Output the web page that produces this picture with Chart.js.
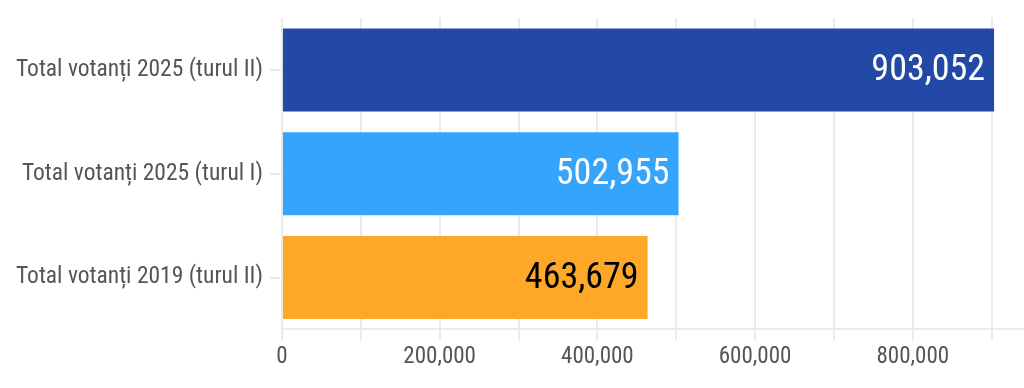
<!DOCTYPE html>
<html>
<head>
<meta charset="utf-8">
<script src="https://cdn.jsdelivr.net/npm/chart.js@4"></script>
<style>
  html, body { margin: 0; padding: 0; background: #fff; }
  #wrap { width: 1024px; height: 388px; }
</style>
</head>
<body>
<div id="wrap"><canvas id="chart"></canvas></div>
<script>
const categories = ['Total votanți 2025 (turul II)', 'Total votanți 2025 (turul I)', 'Total votanți 2019 (turul II)'];
const voters = [903052, 502955, 463679];
const barColors = ['#2349a6', '#34a4fd', '#fda829'];
const valueColors = ['#ffffff', '#ffffff', '#000000'];
const gridTicks = [0, 100000, 200000, 300000, 400000, 500000, 600000, 700000, 800000, 900000];
const labelTicks = [0, 200000, 400000, 600000, 800000];
const axisMax = 941000;

const FONT = "'Roboto Condensed', 'Liberation Sans Narrow', 'DejaVu Sans Condensed', sans-serif";

function fmt(n) {
    return n.toLocaleString('en-US');
}

// value labels inside bar ends
const valueLabels = {
    id: 'valueLabels',
    afterDatasetsDraw(chart) {
        const ctx = chart.ctx;
        const meta = chart.getDatasetMeta(0);
        ctx.save();
        ctx.font = '36px ' + FONT;
        ctx.textAlign = 'right';
        ctx.textBaseline = 'middle';
        meta.data.forEach((bar, i) => {
            ctx.fillStyle = valueColors[i];
            ctx.fillText(fmt(voters[i]), bar.x - 9, bar.y + 1);
        });
        ctx.restore();
    }
};

new Chart(document.querySelector('#chart').getContext('2d'), {
    type: 'bar',
    data: {
        labels: categories,
        datasets: [{
            data: voters,
            backgroundColor: barColors,
            borderWidth: 0,
            categoryPercentage: 0.8,
            barPercentage: 1.0
        }]
    },
    options: {
        indexAxis: 'y',
        responsive: true,
        maintainAspectRatio: false,
        animation: false,
        layout: { padding: { top: 18, right: 0, left: 9, bottom: 14 } },
        plugins: {
            legend: { display: false },
            tooltip: { enabled: false }
        },
        scales: {
            x: {
                min: 0,
                max: axisMax,
                afterBuildTicks(axis) {
                    axis.ticks = gridTicks.map(v => ({ value: v }));
                },
                ticks: {
                    autoSkip: false,
                    maxRotation: 0,
                    color: '#555555',
                    font: { family: FONT, size: 23 },
                    padding: 3,
                    callback: v => (labelTicks.includes(v) ? fmt(v) : '')
                },
                grid: {
                    color: '#ebebeb',
                    lineWidth: 2,
                    tickLength: 11
                },
                border: { color: '#ebebeb', width: 2 }
            },
            y: {
                afterFit(scale) {
                    // labels sit at category centres, no extra room needed above
                    scale.paddingTop = 0;
                    scale.paddingBottom = 0;
                },
                ticks: {
                    color: '#555555',
                    font: { family: FONT, size: 23.5 },
                    padding: 7
                },
                grid: {
                    offset: false,
                    drawOnChartArea: false,
                    color: '#ebebeb',
                    lineWidth: 2,
                    tickLength: 12
                },
                border: { display: false }
            }
        }
    },
    plugins: [valueLabels]
});
</script>
</body>
</html>
